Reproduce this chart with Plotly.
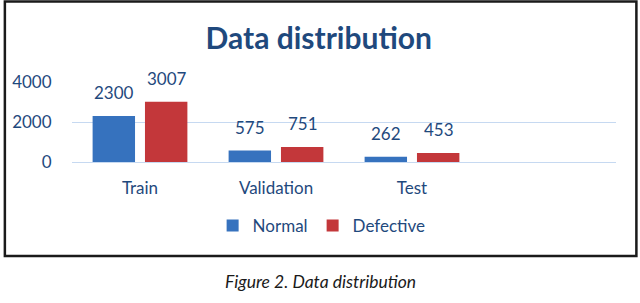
import plotly.graph_objects as go

categories = ["Train", "Validation", "Test"]
normal = [2300, 575, 262]
defective = [3007, 751, 453]
y_ticks = [0, 2000, 4000]

FONT = "Lato"
TXT = "#1F497D"
BLUE = "#3672BE"
RED = "#C3373A"

W, H = 640, 303
L, R, T, B = 69, 24, 82, 141
pw, ph = W - L - R, H - T - B

def px_x(x):
    return (x - L) / pw

def px_y(y):
    return (H - B - y) / ph

fig = go.Figure()
fig.add_trace(go.Bar(name="Normal", x=categories, y=normal, marker_color=BLUE,
                     marker_line_width=0))
fig.add_trace(go.Bar(name="Defective", x=categories, y=defective, marker_color=RED,
                     marker_line_width=0))

annotations = []
for series, shift in ((normal, -26.5), (defective, 26.5)):
    for c, v in zip(categories, series):
        annotations.append(dict(x=c, y=v, xref="x", yref="y", text=str(v),
                                showarrow=False, xshift=shift, yshift=11,
                                yanchor="bottom", font=dict(family=FONT, size=17, color=TXT)))

annotations.append(dict(text="<i>Figure 2. Data distribution</i>", xref="paper", yref="paper",
                        x=px_x(318.5), y=px_y(294), showarrow=False,
                        font=dict(family=FONT, size=17.5, color="#1a1a1a")))

fig.update_layout(
    width=W, height=H,
    margin=dict(l=L, r=R, t=T, b=B),
    paper_bgcolor="white", plot_bgcolor="white",
    title=dict(text="<b>Data distribution</b>", x=0.498, xanchor="center",
               y=1 - 38 / H, yanchor="middle",
               font=dict(family=FONT, size=30, color=TXT)),
    barmode="group", bargap=0.23, bargroupgap=0.19,
    showlegend=True,
    legend=dict(orientation="h", x=px_x(320), xanchor="center", y=px_y(226),
                yanchor="middle", font=dict(family=FONT, size=17, color=TXT),
                itemwidth=30, bgcolor="rgba(0,0,0,0)"),
    annotations=annotations,
    shapes=[dict(type="rect", xref="paper", yref="paper",
                 x0=px_x(1.5), x1=px_x(636.5), y0=px_y(256), y1=px_y(1.5),
                 line=dict(color="#1a1a1a", width=2.5))],
)
fig.update_xaxes(type="category", range=[-0.5, 3.5], showgrid=False, showline=False,
                 zeroline=False, ticks="outside", ticklen=11, tickcolor="rgba(0,0,0,0)",
                 tickfont=dict(family=FONT, size=17, color=TXT))
fig.update_yaxes(range=[0, 4000], tickvals=y_ticks, showgrid=True, gridcolor="#C6D9F1",
                 gridwidth=1.2, zeroline=True, zerolinecolor="#C6D9F1", zerolinewidth=1.2,
                 showline=False, ticks="outside", ticklen=16, tickcolor="rgba(0,0,0,0)",
                 tickfont=dict(family=FONT, size=17, color=TXT))

fig.write_html("out.html", config={"displayModeBar": False},
               post_script="document.body.style.margin='0';")
